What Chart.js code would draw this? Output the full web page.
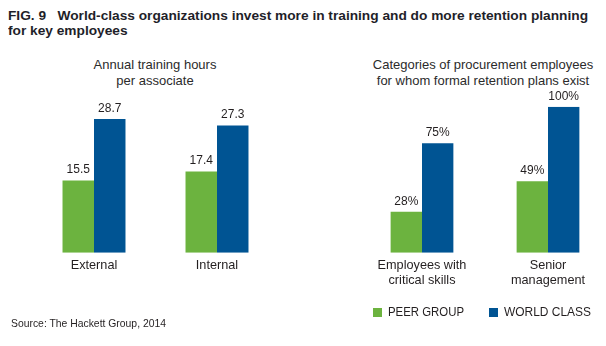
<!DOCTYPE html>
<html>
<head>
<meta charset="utf-8">
<script src="https://cdn.jsdelivr.net/npm/chart.js@4/dist/chart.umd.min.js"></script>
<style>
    html, body { margin: 0; padding: 0; overflow: hidden; background: #fff; }
    body { position: relative; width: 606px; height: 346px; color: #231f20; font-family: "Liberation Sans", Arial, sans-serif; }
    canvas { position: absolute; top: 0; }
    .fit { position: absolute; white-space: nowrap; transform-origin: 0 0; }
    #title { left: 8px; top: 9px; font-weight: bold; font-size: 12.5px; line-height: 14.5px; color: #1f1f2a; }
    .sub { position: absolute; top: 57px; width: 300px; text-align: center; font-size: 13px; line-height: 16px; color: #2b2b2b; }
    .box { position: absolute; top: 307.5px; width: 9px; height: 9px; }
    .leg { top: 304.7px; font-size: 12px; line-height: 15px; }
    #source { left: 11px; top: 316.7px; font-size: 10.5px; line-height: 12px; }
</style>
</head>
<body>
<div id="title" class="fit">FIG. 9&nbsp;&nbsp; World-class organizations invest more in training and do more retention planning<br>for key employees</div>
<div class="sub" style="left:5px">Annual training hours<br>per associate</div>
<div class="sub" style="left:333px">Categories of procurement employees<br>for whom formal retention plans exist</div>
<canvas id="trainingChart" width="300" height="346" style="left:0"></canvas>
<canvas id="retentionChart" width="320" height="346" style="left:300px"></canvas>
<div class="box" style="left:373px; background:#6cb33f"></div>
<div id="legPeer" class="fit leg" style="left:388px">PEER GROUP</div>
<div class="box" style="left:489px; background:#005493"></div>
<div id="legWorld" class="fit leg" style="left:504px">WORLD CLASS</div>
<div id="source" class="fit">Source: The Hackett Group, 2014</div>
<script>
var seriesNames = ['PEER GROUP', 'WORLD CLASS'];
var trainingLabels = ['External', 'Internal'];
var trainingPeer = [15.5, 17.4];
var trainingWorld = [28.7, 27.3];
var retentionLabels = [['Employees with', 'critical skills'], ['Senior', 'management']];
var retentionPeer = [28, 49];
var retentionWorld = [75, 100];

var green = '#6cb33f';
var blue = '#005493';

// squeeze condensed text to the width it has in the figure
var fitWidth = function(id, w){
    var el = document.getElementById(id);
    var r = el.getBoundingClientRect().width;
    el.style.transform = 'scaleX(' + (w / r) + ')';
};
fitWidth('title', 580);
fitWidth('legPeer', 76);
fitWidth('legWorld', 87);
fitWidth('source', 155);

// writes the value above each bar
var valueLabels = {
    id: 'valueLabels',
    afterDatasetsDraw: function(chart, args, opts){
        var ctx = chart.ctx;
        ctx.save();
        ctx.font = '12px "Liberation Sans", Arial, sans-serif';
        ctx.fillStyle = '#231f20';
        ctx.textAlign = 'center';
        ctx.textBaseline = 'middle';
        chart.data.datasets.forEach(function(ds, i){
            chart.getDatasetMeta(i).data.forEach(function(bar, j){
                ctx.fillText(ds.data[j] + (opts.suffix || ''), bar.x, bar.y - 10.5);
            });
        });
        ctx.restore();
    }
};

var makeChart = function(id, labels, peer, world, yMax, padding, catPct, suffix){
    var ctx = document.getElementById(id).getContext('2d');
    return new Chart(ctx, {
        type: 'bar',
        data: {
            labels: labels,
            datasets: [
                { label: seriesNames[0], data: peer, backgroundColor: green, borderWidth: 0 },
                { label: seriesNames[1], data: world, backgroundColor: blue, borderWidth: 0 }
            ]
        },
        options: {
            responsive: false,
            animation: false,
            devicePixelRatio: 1,
            layout: { padding: padding },
            barPercentage: 1,
            categoryPercentage: catPct,
            plugins: {
                legend: { display: false },
                tooltip: { enabled: false },
                valueLabels: { suffix: suffix }
            },
            scales: {
                x: {
                    grid: { display: false, drawTicks: false },
                    border: { display: false },
                    ticks: {
                        padding: 5,
                        color: '#231f20',
                        font: { family: '"Liberation Sans", Arial, sans-serif', size: 12.7, lineHeight: 1.18 }
                    },
                    afterFit: function(axis){ axis.height = 45; }
                },
                y: { display: false, min: 0, max: yMax }
            }
        },
        plugins: [valueLabels]
    });
};

makeChart('trainingChart', trainingLabels, trainingPeer, trainingWorld, 30,
    { left: 32.5, right: 21.5, top: 112.9, bottom: 48.3 }, 0.512, '');
makeChart('retentionChart', retentionLabels, retentionPeer, retentionWorld, 100,
    { left: 59, right: 9, top: 106.7, bottom: 48.3 }, 0.498, '%');
</script>
</body>
</html>
